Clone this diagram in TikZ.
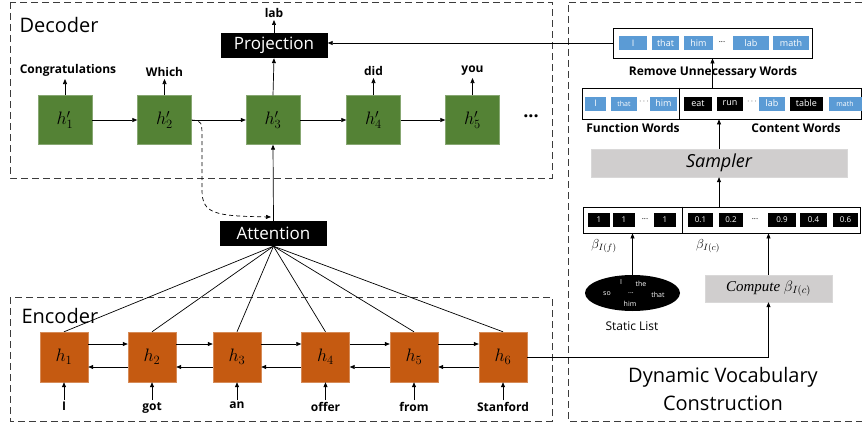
\RequirePackage{fix-cm}
\documentclass[tikz,border=0pt]{standalone}
\usepackage{fontspec}
\setmainfont{Open Sans}
\newfontfamily\tnr{Liberation Serif}
\usepackage{tikz}
\usetikzlibrary{arrows.meta, shapes.geometric}

\definecolor{decgreen}{RGB}{84,130,53}
\definecolor{encorange}{RGB}{197,90,17}
\definecolor{wordblue}{RGB}{91,155,213}
\definecolor{boxgray}{RGB}{208,206,206}
\definecolor{framegray}{RGB}{60,60,60}

\tikzset{
  arr/.style={-{Triangle[length=5pt,width=4pt]}, line width=0.7pt},
  frame/.style={draw=framegray, line width=0.9pt, dash pattern=on 7pt off 4pt},
  decstate/.style={fill=decgreen, draw=decgreen!70!white, minimum width=54pt, minimum height=49pt, inner sep=0pt, font=\fontsize{18}{18}\selectfont},
  encstate/.style={fill=encorange, draw=encorange!70!white, minimum width=48pt, minimum height=50pt, inner sep=0pt, font=\fontsize{18}{18}\selectfont},
  blackbar/.style={fill=black, text=white, minimum width=107pt, minimum height=25pt, inner sep=0pt, font=\fontsize{17}{17}\selectfont},
  wordlbl/.style={font=\fontsize{12}{12}\selectfont\bfseries, inner sep=2pt},
  heading/.style={font=\fontsize{20}{28}\selectfont},
  blueword/.style={fill=wordblue, text=white, minimum height=14pt, inner sep=0pt, font=\fontsize{9}{9}\selectfont},
  blackword/.style={fill=black, text=white, minimum height=14pt, inner sep=0pt, font=\fontsize{9}{9}\selectfont},
  grayblock/.style={fill=boxgray, draw=boxgray!80!white, inner sep=0pt},
  listbox/.style={draw, line width=0.8pt, inner sep=0pt},
  smalldots/.style={font=\fontsize{8}{8}\selectfont, inner sep=0pt},
  listword/.style={text=white, font=\fontsize{7}{7}\selectfont, inner sep=0pt},
}

\begin{document}
\begin{tikzpicture}[x=1pt, y=-1pt]
\useasboundingbox (0,0) rectangle (862,428);

% decoder
\draw[frame] (10,2) rectangle (552,178);
\node[heading, anchor=west] (declbl) at (16,25) {Decoder};
\foreach \n/\x in {1/65, 2/164.5, 3/273, 4/373.5, 5/472.5}
  \node[decstate] (d\n) at (\x,120) {$h'_{\n}$};
\foreach \a/\b in {1/2, 2/3, 3/4, 4/5}
  \draw[arr] (d\a.east) -- (d\b.west);
\node[font=\fontsize{18}{18}\selectfont\bfseries] (ddots) at (531,116) {...};
\node[wordlbl, anchor=south] (o1) at (68,79) {Congratulations};
\node[wordlbl, anchor=south] (o2) at (164.5,79) {Which};
\node[wordlbl, anchor=south] (o4) at (373.5,78) {did};
\node[wordlbl, anchor=south] (o5) at (472.5,78) {you};
\foreach \n in {1,2,4,5}
  \draw[arr] (d\n.north) -- (d\n.north |- o\n.south);

\node[blackbar] (proj) at (274,45.5) {Projection};
\node[wordlbl, anchor=south] (lab) at (274,20) {lab};
\draw[arr] (proj.north) -- (lab.south);
\draw[arr] (d3.north) -- (proj.south);

% attention
\node[blackbar] (att) at (273.5,233.5) {Attention};
\draw[arr] (att.north) -- (d3.south);
\coordinate (attin) at (271,217);
\draw[arr, dash pattern=on 4pt off 3pt] (d2.east) .. controls (202,121) .. (202,140) -- (202,190) .. controls (202,214) and (215,216) .. (attin);

% encoder
\draw[frame] (10,297) rectangle (552,421);
\node[heading, anchor=west] (enclbl) at (18,316) {Encoder};
\foreach \n/\x/\w in {1/64/I, 2/152/got, 3/237/an, 4/325.5/offer, 5/414/from, 6/503/Stanford} {
  \node[encstate] (e\n) at (\x,357) {$h_{\n}$};
  \node[wordlbl, anchor=north] (w\n) at (\x,400) {\w};
  \draw[arr] (w\n.north) -- (e\n.south);
  \draw[line width=0.7pt] (e\n.north) -- (att.south);
}
\foreach \a/\b in {1/2, 2/3, 3/4, 4/5, 5/6} {
  \draw[arr] ([yshift=13pt]e\a.east) -- ([yshift=13pt]e\b.west);
  \draw[arr] ([yshift=-10pt]e\b.west) -- ([yshift=-10pt]e\a.east);
}

% dynamic vocabulary
\draw[frame] (862,2) -- (568,2) -- (568,421) -- (862,421);
\node[heading, align=center] (dvc) at (723,389) {Dynamic Vocabulary\\Construction};

\node[listbox, minimum width=199pt, minimum height=30pt] (rm) at (712.5,43) {};
\foreach \n/\x/\w/\t in {1/633/28pt/I, 2/665.5/27pt/that, 3/698.5/29pt/him, 5/751/36pt/lab, 6/791/36pt/math}
  \node[blueword, minimum width=\w] (rw\n) at (\x,43) {\t};
\node[smalldots] (rwdots) at (722,42) {...};
\node[wordlbl] (rmlbl) at (713,72) {Remove Unnecessary Words};
\draw[arr] (rm.west) -- (rm.west -| proj.east);

\node[listbox, minimum width=279pt, minimum height=31pt] (fc) at (721.5,103.5) {};
\draw[line width=0.8pt] ([xshift=-42.5pt]fc.north) -- ([xshift=-42.5pt]fc.south);
\node[blueword, minimum width=21pt] (fw1) at (595.5,103.5) {I};
\node[blueword, minimum width=26pt, font=\fontsize{7}{7}\selectfont] (fw2) at (624,103.5) {that};
\node[smalldots] (fwdots) at (644,102) {$\cdots$};
\node[blueword, minimum width=27pt] (fw3) at (663.5,103.5) {him};
\node[blackword, minimum width=28pt] (cw1) at (698,103.5) {eat};
\node[blackword, minimum width=26pt] (cw2) at (730,103.5) {run};
\node[smalldots] (cwdots) at (752,102) {$\cdots$};
\node[blueword, minimum width=26pt] (cw3) at (772,103.5) {lab};
\node[blackword, minimum width=33pt] (cw4) at (806.5,103.5) {table};
\node[blueword, minimum width=33pt, font=\fontsize{7}{7}\selectfont] (cw5) at (845,103.5) {math};
\node[wordlbl] (fwlbl) at (633,128) {Function Words};
\node[wordlbl] (cwlbl) at (796,128) {Content Words};
\draw[arr] (rm.south |- fc.north) -- (rm.south);

\node[grayblock, minimum width=256pt, minimum height=28pt, font=\fontsize{18}{18}\selectfont\itshape] (smp) at (719,163) {Sampler};
\draw[arr] (smp.north) -- (smp.north |- fc.south);

\node[listbox, minimum width=277pt, minimum height=26pt] (bt) at (721.5,220) {};
\draw[line width=0.8pt] ([xshift=-39.5pt]bt.north) -- ([xshift=-39.5pt]bt.south);
\foreach \n/\x/\w/\t in {1/599/22pt/1, 2/624/22pt/1, 3/665/22pt/1, 4/700.5/25pt/0.1, 5/731/24pt/0.2, 6/782/28pt/0.9, 7/813.5/27pt/0.4, 8/845.5/25pt/0.6}
  \node[blackword, minimum width=\w, font=\fontsize{8}{8}\selectfont] (b\n) at (\x,220) {\t};
\node[smalldots] (bfdots) at (645,219) {...};
\node[smalldots] (bcdots) at (755,219) {...};
\node[font=\fontsize{13}{13}\selectfont] (bf) at (604,246) {$\beta_{I(f)}$};
\node[font=\fontsize{13}{13}\selectfont] (bc) at (708,246) {$\beta_{I(c)}$};
\draw[arr] (smp.south |- bt.north) -- (smp.south);

% static list
\node[ellipse, fill=black, minimum width=95pt, minimum height=36pt, inner sep=0pt] (sl) at (632.5,293) {};
\node[listword] (s1) at (621,282) {I};
\node[listword] (s2) at (641,284) {the};
\node[listword] (s3) at (607,294) {so};
\node[listword] (s4) at (631,293) {...};
\node[listword] (s5) at (658,295) {that};
\node[listword] (s6) at (630,304) {him};
\node[font=\fontsize{12}{12}\selectfont] (sllbl) at (632,326) {Static List};
\draw[arr] (sl.north) -- (sl.north |- bt.south);

\node[grayblock, minimum width=127pt, minimum height=27pt, font=\tnr\itshape\fontsize{15}{15}\selectfont] (cmp) at (768.5,288.5) {Compute $\beta_{I(c)}$};
\draw[arr] (cmp.north) -- (cmp.north |- bt.south);
\draw[arr] (e6.east) -| (cmp.south);
\end{tikzpicture}
\end{document}
